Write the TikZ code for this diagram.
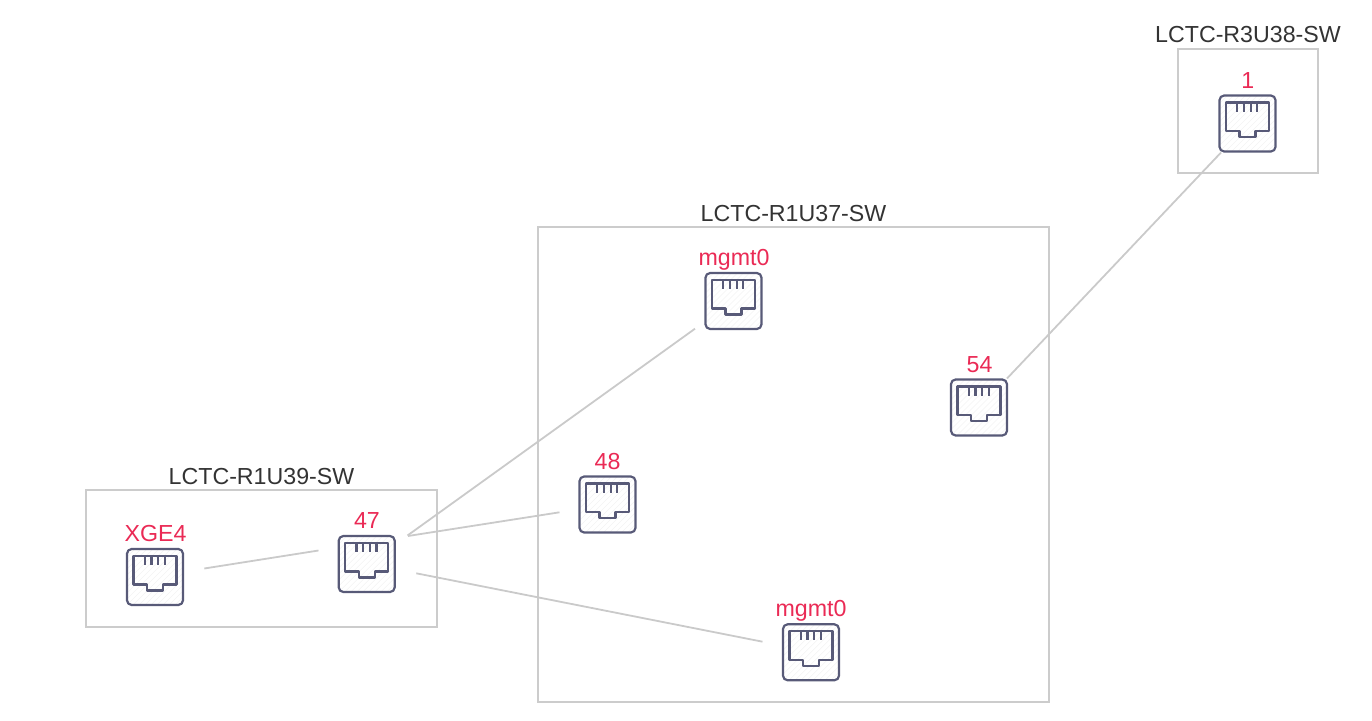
\documentclass[tikz,border=0pt]{standalone}
\usepackage{fontspec}
\setmainfont{Liberation Sans}
\definecolor{portred}{HTML}{EA2A55}
\definecolor{titlegray}{HTML}{333333}
\definecolor{boxgray}{HTML}{CCCCCC}
\definecolor{linegray}{HTML}{CACACA}
\definecolor{iconblue}{HTML}{585A78}
\definecolor{hatchgray}{HTML}{F3F3F3}
\tikzset{
  groupbox/.style={draw=boxgray,line width=1.5pt,fill=none},
  grouptitle/.style={text=titlegray,font=\fontsize{17.4}{20}\selectfont,inner sep=0pt,anchor=base},
  portlabel/.style={text=portred,font=\fontsize{17.4}{20}\selectfont,inner sep=0pt,anchor=base},
  portnode/.style={minimum size=42pt,inner sep=0pt,draw=none},
  linkline/.style={draw=linegray,line width=1.35pt},
  iconline/.style={draw=iconblue,line width=1.65pt,line join=round},
  pics/porticon/.style={code={
    \begin{scope}
      \clip (-27,-27) rectangle (27,27);
      \foreach \k in {-48,-42,...,48}{\draw[hatchgray,line width=0.4pt] (\k-30,30) -- (\k+30,-30);}
    \end{scope}
    \draw[iconline,rounded corners=3.5pt] (-28,-28) rectangle (28,28);
    \draw[iconline] (-21.5,-21) -- (21.5,-21) -- (21.5,7.5) -- (8,7.5) -- (8,13.5) -- (-8,13.5) -- (-8,7.5) -- (-21.5,7.5) -- cycle;
    \foreach \k in {-10.2,-3.5,3.1,9.8}{\draw[iconline] (\k,-21) -- (\k,-12);}
  }}
}
\begin{document}
\begin{tikzpicture}[x=0.75pt,y=-0.75pt]
\useasboundingbox (0,0) rectangle (1372,721);
\draw[groupbox] (85.5,489.5) rectangle (437,627);
\draw[groupbox] (538,226.5) rectangle (1049,702);
\draw[groupbox] (1178,49) rectangle (1318,173);
\node[grouptitle] (t39) at (261.5,484) {LCTC-R1U39-SW};
\node[grouptitle] (t37) at (793.5,221) {LCTC-R1U37-SW};
\node[grouptitle] (t38) at (1248,42.5) {LCTC-R3U38-SW};
\node[portnode] (xge) at (155,577) {};
\node[portnode] (p47) at (366.7,564) {};
\node[portnode] (p48) at (607.5,504.5) {};
\node[portnode] (m1) at (733.5,301) {};
\node[portnode] (m2) at (811,652.3) {};
\node[portnode] (p54) at (979,407.5) {};
\node[portnode] (p1) at (1247.5,123.5) {};
\foreach \n in {xge,p47,p48,m1,m2,p54,p1}{\pic at (\n) {porticon};}
\node[portlabel] (lxge) at (155.5,541.8) {XGE4};
\node[portlabel] (l47) at (367,528.5) {47};
\node[portlabel] (l48) at (607.5,469.5) {48};
\node[portlabel] (lm1) at (734,265.5) {mgmt0};
\node[portlabel] (lm2) at (811,616.5) {mgmt0};
\node[portlabel] (l54) at (979.5,372.5) {54};
\node[portlabel] (l1) at (1247.8,88) {1};
\coordinate (a1) at (204.3,568.5);
\coordinate (a2) at (318.5,550.5);
\coordinate (b1) at (408,536);
\coordinate (b2) at (559.5,512.3);
\coordinate (c1) at (407.5,535.5);
\coordinate (c2) at (695,328.7);
\coordinate (d1) at (416.3,573.3);
\coordinate (d2) at (762.5,641.7);
\coordinate (e1) at (1007,378.5);
\coordinate (e2) at (1221,152.5);
\draw[linkline] (a1) -- (a2);
\draw[linkline] (b1) -- (b2);
\draw[linkline] (c1) -- (c2);
\draw[linkline] (d1) -- (d2);
\draw[linkline] (e1) -- (e2);
\end{tikzpicture}
\end{document}
